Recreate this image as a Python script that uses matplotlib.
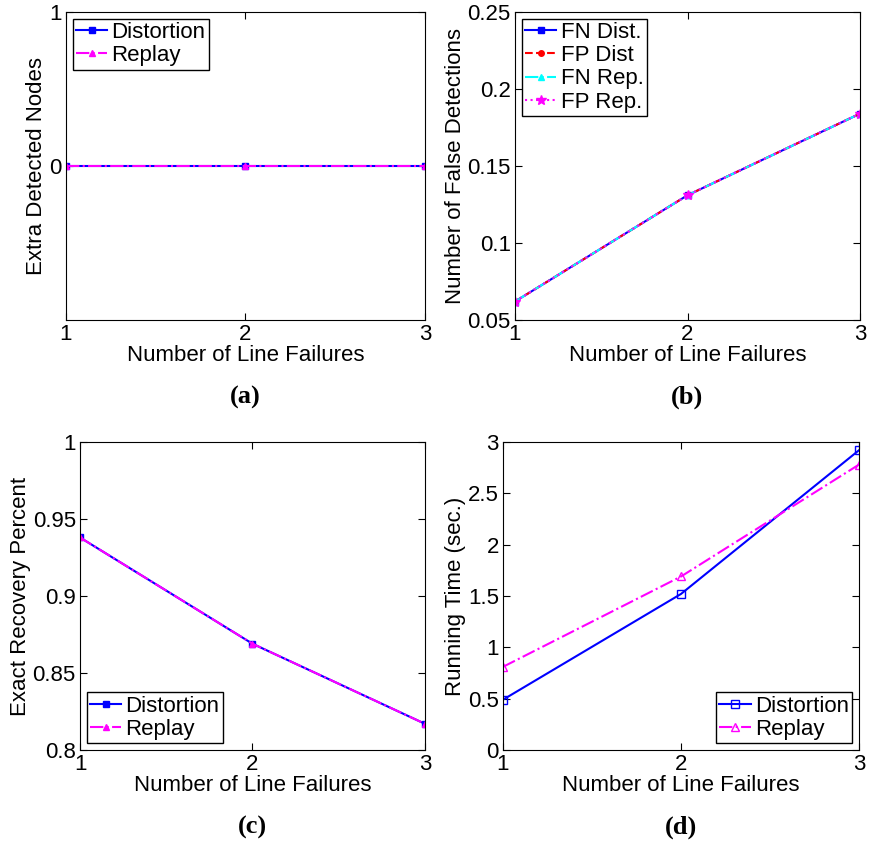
import matplotlib
matplotlib.use("Agg")
import matplotlib.pyplot as plt

plt.rcParams['font.family'] = ['Liberation Sans', 'DejaVu Sans']

failures = [1, 2, 3]

# (a) extra detected nodes
extra_dist = [0, 0, 0]
extra_rep = [0, 0, 0]

# (b) false detections
fn_dist = [0.062, 0.131, 0.184]
fp_dist = [0.062, 0.131, 0.184]
fn_rep = [0.062, 0.131, 0.184]
fp_rep = [0.062, 0.131, 0.184]

# (c) exact recovery
rec_dist = [0.938, 0.869, 0.817]
rec_rep = [0.938, 0.869, 0.817]

# (d) running time
time_dist = [0.49, 1.52, 2.92]
time_rep = [0.81, 1.69, 2.78]

W, H = 878, 844
FS = 16
fig = plt.figure(figsize=(W / 100, H / 100), dpi=100)


def make_ax(left, top, right, bottom):
    ax = fig.add_axes([left / W, 1 - bottom / H, (right - left) / W, (bottom - top) / H])
    ax.tick_params(direction='in', top=True, right=True, length=5, labelsize=FS, pad=3)
    ax.set_xlim(1, 3)
    ax.set_xticks(failures)
    ax.set_xlabel('Number of Line Failures', fontsize=FS, labelpad=0)
    for s in ax.spines.values():
        s.set_linewidth(0.8)
    return ax


def sublabel(ax, txt):
    ax.text(0.5, -0.25, txt, transform=ax.transAxes, ha='center', va='center',
            fontsize=19, fontweight='bold', family='Liberation Serif')


leg_kw = dict(fontsize=FS, fancybox=False, edgecolor='black', framealpha=1,
              handlelength=1.4, handletextpad=0.2, borderpad=0.15, labelspacing=0.1,
              borderaxespad=0.3)

# (a)
ax = make_ax(66, 12, 425, 320)
ax.plot(failures, extra_dist, '-s', color='blue', lw=1.5, ms=5, label='Distortion')
ax.plot(failures, extra_rep, '-.^', color='magenta', lw=1.5, ms=5, label='Replay')
ax.set_ylim(-1, 1)
ax.set_yticks([0, 1])
ax.set_ylabel('Extra Detected Nodes', fontsize=FS, labelpad=2)
ax.legend(loc='upper left', **leg_kw)
sublabel(ax, '(a)')

# (b)
ax = make_ax(515, 12, 860, 320)
ax.plot(failures, fn_dist, '-s', color='blue', lw=1.5, ms=4, label='FN Dist.')
ax.plot(failures, fp_dist, '--o', color='red', lw=1.5, ms=4, label='FP Dist')
ax.plot(failures, fn_rep, '-.^', color='cyan', lw=1.5, ms=4, label='FN Rep.')
ax.plot(failures, fp_rep, ':*', color='magenta', lw=1.5, ms=7, label='FP Rep.')
ax.set_ylim(0.05, 0.25)
ax.set_yticks([0.05, 0.1, 0.15, 0.2, 0.25])
ax.set_yticklabels(['0.05', '0.1', '0.15', '0.2', '0.25'])
ax.set_ylabel('Number of False Detections', fontsize=FS, labelpad=1)
ax.legend(loc='upper left', **leg_kw)
sublabel(ax, '(b)')

# (c)
ax = make_ax(80, 442, 425, 750)
ax.plot(failures, rec_dist, '-s', color='blue', lw=1.5, ms=5, label='Distortion')
ax.plot(failures, rec_rep, '-.^', color='magenta', lw=1.5, ms=5, label='Replay')
ax.set_ylim(0.8, 1)
ax.set_yticks([0.8, 0.85, 0.9, 0.95, 1])
ax.set_yticklabels(['0.8', '0.85', '0.9', '0.95', '1'])
ax.set_ylabel('Exact Recovery Percent', fontsize=FS, labelpad=1)
ax.legend(loc='lower left', **leg_kw)
sublabel(ax, '(c)')

# (d)
ax = make_ax(503, 442, 859, 750)
ax.plot(failures, time_dist, '-s', color='blue', lw=1.5, ms=6, mfc='none', label='Distortion')
ax.plot(failures, time_rep, '-.^', color='magenta', lw=1.5, ms=6, mfc='none', label='Replay')
ax.set_ylim(0, 3)
ax.set_yticks([0, 0.5, 1, 1.5, 2, 2.5, 3])
ax.set_yticklabels(['0', '0.5', '1', '1.5', '2', '2.5', '3'])
ax.set_ylabel('Running Time (sec.)', fontsize=FS, labelpad=1)
ax.legend(loc='lower right', **leg_kw)
sublabel(ax, '(d)')

fig.savefig('out.png', dpi=100)
